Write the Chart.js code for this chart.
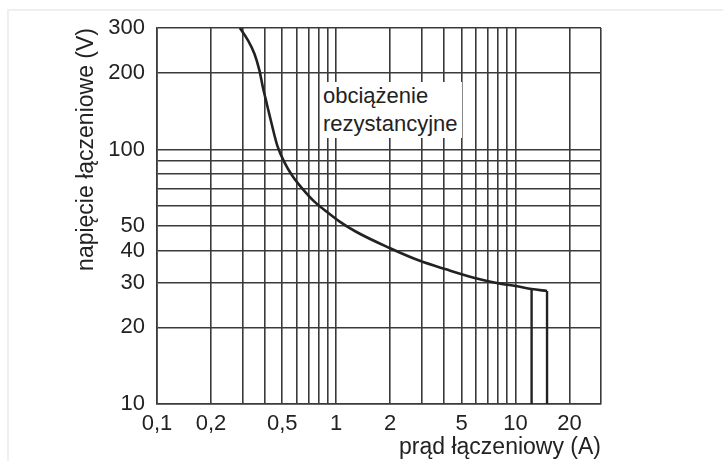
<!DOCTYPE html>
<html>
<head>
<meta charset="utf-8">
<script src="https://cdn.jsdelivr.net/npm/chart.js@4"></script>
<style>
  html, body { margin: 0; padding: 0; background: #fff; }
  #wrap { position: relative; width: 723px; height: 461px; overflow: hidden; }
  #frameTop { position: absolute; left: 8px; top: 9px; width: 715px; height: 2px; background: #efefef; }
  #frameLeft { position: absolute; left: 7px; top: 9px; width: 2px; height: 452px; background: #efefef; }
  #note { position: absolute; left: 320px; top: 82px; width: 142px; height: 56px; background: #fff;
          font-family: "Liberation Sans", Arial, sans-serif; font-size: 22px; color: #222; line-height: 28px;
          padding-left: 3px; box-sizing: border-box; white-space: nowrap; }
  canvas { position: absolute; left: 0; top: 0; }
</style>
</head>
<body>
<div id="wrap">
  <div id="frameTop"></div>
  <div id="frameLeft"></div>
  <canvas id="c" width="723" height="461"></canvas>
  <div id="note">obciążenie<br>rezystancyjne</div>
</div>
<script>
// Data
const curveCurrent = [0.29, 0.32, 0.35, 0.373, 0.388, 0.409, 0.435, 0.47, 0.514, 0.57, 0.647, 0.755, 0.88, 1.04, 1.29, 1.97, 2.9, 4.1, 6.0, 8.4, 10, 12.3, 15];
const curveVoltage = [300, 270, 237, 204, 178, 152, 127, 103, 89, 78.7, 70.2, 62.4, 57.1, 52.2, 47.5, 41.1, 36.6, 33.8, 31.2, 29.6, 29.1, 28.3, 27.8];
const limitA_current = [12.3, 12.3];
const limitA_voltage = [28.3, 10];
const limitB_current = [15, 15];
const limitB_voltage = [27.8, 10];

// Grid (tick) values and labelled ticks
const xGridValues = [0.1, 0.2, 0.3, 0.4, 0.5, 0.6, 0.7, 0.8, 0.9, 1, 2, 3, 4, 5, 6, 7, 8, 9, 10, 20, 30];
const yGridValues = [10, 20, 30, 40, 50, 60, 70, 80, 90, 100, 200, 300];
const xLabelValues = [0.1, 0.2, 0.5, 1, 2, 5, 10, 20];
const yLabelValues = [10, 20, 30, 40, 50, 100, 200, 300];
const xTitle = 'prąd łączeniowy (A)';
const yTitle = 'napięcie łączeniowe (V)';

const toPoints = (xs, ys) => xs.map((x, i) => ({x: x, y: ys[i]}));
const hasLabel = (list, v) => list.some(t => Math.abs(t - v) < 1e-6 * Math.max(1, t));
const fmt = v => String(v).replace('.', ',');

const FONT = "'Liberation Sans', Arial, sans-serif";
const GRID = '#3a3a3a';
const INK = '#222';

new Chart(document.getElementById('c'), {
  type: 'line',
  data: {
    datasets: [
      { data: toPoints(curveCurrent, curveVoltage), borderColor: INK, borderWidth: 2.6,
        pointRadius: 0, cubicInterpolationMode: 'monotone', fill: false },
      { data: toPoints(limitA_current, limitA_voltage), borderColor: INK, borderWidth: 2.4,
        pointRadius: 0, tension: 0, fill: false },
      { data: toPoints(limitB_current, limitB_voltage), borderColor: INK, borderWidth: 2.4,
        pointRadius: 0, tension: 0, fill: false }
    ]
  },
  options: {
    responsive: false,
    animation: false,
    devicePixelRatio: 1,
    layout: { padding: { top: 28, right: 122, left: 0, bottom: 0 } },
    plugins: { legend: { display: false }, tooltip: { enabled: false } },
    scales: {
      x: {
        type: 'logarithmic', min: 0.1, max: 30,
        afterBuildTicks: (s) => { s.ticks = xGridValues.map(v => ({ value: v })); },
        border: { display: true, color: GRID, width: 1.6 },
        grid: { color: GRID, lineWidth: 1.6, drawTicks: false },
        ticks: {
          autoSkip: false, maxRotation: 0, padding: 7, color: INK,
          font: { family: FONT, size: 22 },
          callback: (v) => hasLabel(xLabelValues, v) ? fmt(v) : ''
        },
        title: { display: true, text: xTitle, align: 'end', color: INK,
                 font: { family: FONT, size: 23 }, padding: { top: 0, bottom: 0 } },
        afterFit: (s) => { s.height = 57; }
      },
      y: {
        type: 'logarithmic', min: 10, max: 300,
        afterBuildTicks: (s) => { s.ticks = yGridValues.map(v => ({ value: v })); },
        border: { display: true, color: GRID, width: 1.6 },
        grid: { color: GRID, lineWidth: 1.6, drawTicks: false },
        ticks: {
          autoSkip: false, padding: 12, color: INK,
          font: { family: FONT, size: 22 },
          callback: (v) => hasLabel(yLabelValues, v) ? fmt(v) : ''
        },
        title: { display: true, text: yTitle, align: 'end', color: INK,
                 font: { family: FONT, size: 23 }, padding: { top: 73, bottom: 0 } },
        afterFit: (s) => { s.width = 157; }
      }
    }
  }
});
</script>
</body>
</html>
